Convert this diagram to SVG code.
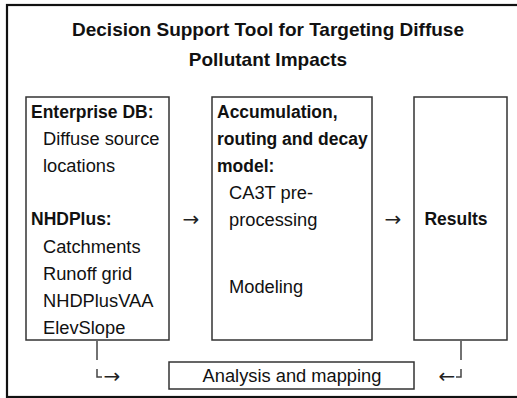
<svg xmlns="http://www.w3.org/2000/svg" width="517" height="398" viewBox="0 0 517 398">
<style>
.t{font-family:"Liberation Sans",Arial,sans-serif;font-size:18.3px;fill:#111}
.b{font-weight:bold;font-size:17.5px}
.title{font-family:"Liberation Sans",Arial,sans-serif;font-size:19px;font-weight:bold;fill:#111;text-anchor:middle}
.box{fill:#fff;stroke:#333;stroke-width:1.5}
.ln{stroke:#444;stroke-width:1.5;fill:none}
.ar{font-family:"DejaVu Sans",sans-serif;font-size:20px;fill:#222;text-anchor:middle}
</style>
<rect x="0" y="0" width="517" height="398" fill="#fff"/>
<rect id="frame" x="7" y="5" width="530" height="392" fill="none" stroke="#111" stroke-width="2.2"/>
<g id="title">
<text class="title" x="268" y="36">Decision Support Tool for Targeting Diffuse</text>
<text class="title" x="268" y="66">Pollutant Impacts</text>
</g>
<g id="inputs">
<rect class="box" x="26" y="97" width="143" height="243"/>
<text class="t b" x="31" y="118">Enterprise DB:</text>
<text class="t" x="43" y="145">Diffuse source</text>
<text class="t" x="43" y="172">locations</text>
<text class="t b" x="31" y="225">NHDPlus:</text>
<text class="t" x="43" y="253">Catchments</text>
<text class="t" x="43" y="280">Runoff grid</text>
<text class="t" x="43" y="307">NHDPlusVAA</text>
<text class="t" x="43" y="334">ElevSlope</text>
</g>
<g id="model">
<rect class="box" x="212" y="97" width="160" height="243"/>
<text class="t b" x="217" y="118">Accumulation,</text>
<text class="t b" x="217" y="145">routing and decay</text>
<text class="t b" x="217" y="172">model:</text>
<text class="t" x="229" y="199">CA3T pre-</text>
<text class="t" x="229" y="226">processing</text>
<text class="t" x="229" y="293">Modeling</text>
</g>
<g id="results">
<rect class="box" x="414" y="97" width="93" height="243"/>
<text class="t b" x="456" y="225" text-anchor="middle">Results</text>
</g>
<g id="analysis">
<rect class="box" x="169" y="362" width="245" height="27"/>
<text class="t" x="292" y="382" text-anchor="middle">Analysis and mapping</text>
</g>
<g id="connectors">
<text class="ar" x="191" y="226">→</text>
<text class="ar" x="393" y="226">→</text>
<path class="ln" d="M97 341V360M97 369V377H102"/>
<text class="ar" x="112" y="383">→</text>
<path class="ln" d="M461 341V360M461 369V377H456"/>
<text class="ar" x="447" y="383">←</text>
</g>
</svg>
